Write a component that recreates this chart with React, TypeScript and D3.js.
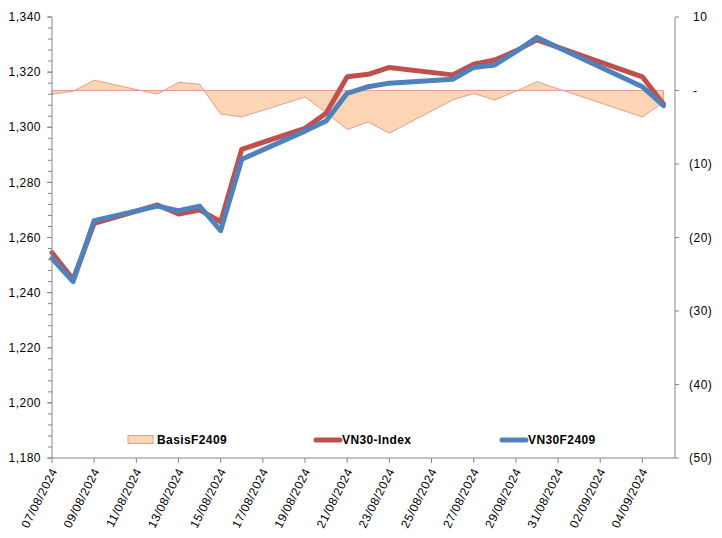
import React from "react";
import * as d3 from "d3";

const dates = ["07/08/2024", "08/08/2024", "09/08/2024", "12/08/2024", "13/08/2024", "14/08/2024", "15/08/2024", "16/08/2024", "19/08/2024", "20/08/2024", "21/08/2024", "22/08/2024", "23/08/2024", "26/08/2024", "27/08/2024", "28/08/2024", "29/08/2024", "30/08/2024", "04/09/2024", "05/09/2024"];
const vn30Index = [1254.5, 1244.8, 1265.1, 1271.8, 1268.5, 1270.0, 1265.7, 1292.0, 1299.6, 1305.1, 1318.3, 1319.2, 1321.7, 1319.0, 1322.9, 1324.4, 1327.7, 1331.7, 1318.3, 1308.4];
const vn30F2409 = [1252.4, 1244.0, 1266.1, 1271.4, 1269.7, 1271.4, 1262.5, 1288.4, 1298.6, 1302.3, 1312.3, 1314.7, 1316.0, 1317.4, 1321.7, 1322.6, 1327.4, 1332.6, 1314.7, 1307.8];
const basisF2409 = [-0.5, -0.1, 1.4, -0.5, 1.1, 0.85, -3.2, -3.6, -0.9, -3.0, -5.3, -4.3, -5.8, -1.3, -0.4, -1.3, -0.1, 1.2, -3.6, -1.6];
const xTickLabels = ["07/08/2024", "09/08/2024", "11/08/2024", "13/08/2024", "15/08/2024", "17/08/2024", "19/08/2024", "21/08/2024", "23/08/2024", "25/08/2024", "27/08/2024", "29/08/2024", "31/08/2024", "02/09/2024", "04/09/2024"];
const leftTicks = [1180, 1200, 1220, 1240, 1260, 1280, 1300, 1320, 1340];
const rightTicks = [-50, -40, -30, -20, -10, 0, 10];
const seriesNames = ["BasisF2409", "VN30-Index", "VN30F2409"];

const parse = d3.timeParse("%d/%m/%Y");
const FONT = "'Liberation Sans', Arial, sans-serif";

function fmtRight(v: number) {
  if (v === 0) return "-";
  if (v < 0) return `(${Math.abs(v)})`;
  return String(v);
}

export default function App() {
  const left = 52, right = 674, top = 17, bottom = 458;
  const x = d3.scaleTime()
    .domain([parse("07/08/2024")!, new Date(2024, 8, 5, 12)])
    .range([left, right]);
  const yL = d3.scaleLinear().domain([1180, 1340]).range([bottom, top]);
  const yR = d3.scaleLinear().domain([-50, 10]).range([bottom, top]);
  const ds = dates.map((d) => parse(d)!);

  const area = d3.area<number>()
    .x((_, i) => x(ds[i]))
    .y0(() => yR(0))
    .y1((v) => yR(v));
  const areaPath = area(basisF2409) + "";
  // closed outline incl. baseline
  const outline = d3.line<[number, number]>()([
    [x(ds[0]), yR(0)],
    ...basisF2409.map((v, i) => [x(ds[i]), yR(v)] as [number, number]),
    [x(ds[ds.length - 1]), yR(0)],
  ]) + "Z";

  const lineL = d3.line<number>().x((_, i) => x(ds[i])).y((v) => yL(v));

  const minorTicks = d3.range(1180, 1340.01, 4);
  const axisColor = "#868686";

  return (
    <svg width={722} height={538} style={{ position: "absolute", left: 0, top: 0, background: "#fff" }} fontFamily={FONT}>
      <rect width={722} height={538} fill="#fff" />
      {/* basis area */}
      <path d={areaPath} fill="#FCD5B5" stroke="none" />
      <path d={outline} fill="none" stroke="#E39E8E" strokeWidth={1} />
      {/* lines */}
      <path d={lineL(vn30Index) || ""} fill="none" stroke="#C0504D" strokeWidth={5} strokeLinejoin="round" strokeLinecap="round" />
      <path d={lineL(vn30F2409) || ""} fill="none" stroke="#4F81BD" strokeWidth={5} strokeLinejoin="round" strokeLinecap="round" />

      {/* left axis */}
      <line x1={left} x2={left} y1={top} y2={bottom} stroke={axisColor} />
      {minorTicks.map((t) => (
        <line key={"m" + t} x1={left - 4} x2={left} y1={yL(t)} y2={yL(t)} stroke={axisColor} />
      ))}
      {leftTicks.map((t) => (
        <g key={"l" + t}>
          <line x1={left - 5} x2={left} y1={yL(t)} y2={yL(t)} stroke={axisColor} />
          <text x={41} y={yL(t)} dy="0.35em" textAnchor="end" fontSize={12} letterSpacing={0.5} fill="#000">
            {d3.format(",")(t)}
          </text>
        </g>
      ))}

      {/* right axis */}
      <line x1={right + 1} x2={right + 1} y1={top} y2={bottom} stroke={axisColor} />
      {rightTicks.map((t) => (
        <g key={"r" + t}>
          <line x1={right + 1} x2={right + 5} y1={yR(t)} y2={yR(t)} stroke={axisColor} />
          <text x={t < 0 ? 689 : 693} y={yR(t)} dy="0.35em" textAnchor="start" fontSize={12} letterSpacing={0.5} fill="#000">
            {fmtRight(t)}
          </text>
        </g>
      ))}

      {/* x axis */}
      <line x1={left} x2={right + 1} y1={bottom} y2={bottom} stroke={axisColor} />
      {xTickLabels.map((lbl) => {
        const xx = x(parse(lbl)!);
        return (
          <g key={lbl}>
            <line x1={xx} x2={xx} y1={bottom} y2={bottom + 5} stroke={axisColor} />
            <text transform={`translate(${xx + 2},${bottom + 11}) rotate(-63)`} dy="0.35em" textAnchor="end" fontSize={12} letterSpacing={0.5} fill="#000">
              {lbl}
            </text>
          </g>
        );
      })}

      {/* legend */}
      <rect x={128} y={435.5} width={25} height={8} fill="#FCD5B5" stroke="#E39E8E" />
      <text x={157} y={444} fontSize={12} fontWeight="bold" letterSpacing={0.4}>{seriesNames[0]}</text>
      <line x1={316} x2={340} y1={440} y2={440} stroke="#C0504D" strokeWidth={5} strokeLinecap="round" />
      <text x={342} y={444} fontSize={12} fontWeight="bold" letterSpacing={0.4}>{seriesNames[1]}</text>
      <line x1={502} x2={526} y1={440} y2={440} stroke="#4F81BD" strokeWidth={5} strokeLinecap="round" />
      <text x={528} y={444} fontSize={12} fontWeight="bold" letterSpacing={0.4}>{seriesNames[2]}</text>
    </svg>
  );
}
